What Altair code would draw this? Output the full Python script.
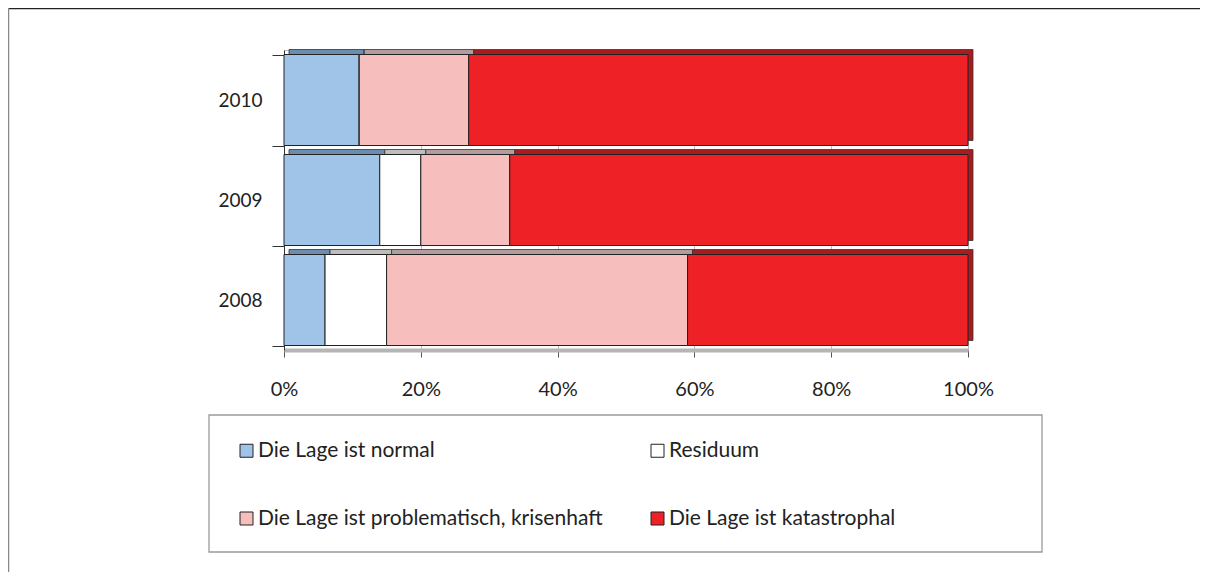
import altair as alt
import pandas as pd

years = ["2010", "2009", "2008"]
categories = [
    "Die Lage ist normal",
    "Residuum",
    "Die Lage ist problematisch, krisenhaft",
    "Die Lage ist katastrophal",
]
normal = [11, 14, 6]
residuum = [0, 6, 9]
problematic = [16, 13, 44]
catastrophal = [73, 67, 41]
x_ticks = [0, 20, 40, 60, 80, 100]

front_colors = ["#9FC4E8", "#FFFFFF", "#F7BEBE", "#EE2226"]
top_colors = ["#6A8DB0", "#BDBDBD", "#B59C9C", "#A81B1F"]

series = [normal, residuum, problematic, catastrophal]
rows = []
for ci, (cat, vals) in enumerate(zip(categories, series)):
    for yr, v in zip(years, vals):
        rows.append({"year": yr, "cat": cat, "ord": ci, "value": v})
df = pd.DataFrame(rows)

FONT = "Lato"

y_enc = alt.Y(
    "year:N",
    sort=years,
    scale=alt.Scale(paddingInner=0.09, paddingOuter=0.045),
    axis=alt.Axis(
        title=None,
        tickBand="extent",
        tickSize=12,
        tickColor="#333",
        domainColor="#333",
        labelPadding=10,
        labelFont=FONT,
        labelFontSize=19,
        labelColor="#222",
        grid=False,
    ),
)
x_enc = alt.X(
    "value:Q",
    stack="zero",
    scale=alt.Scale(domain=[0, 100], nice=False),
    axis=alt.Axis(
        title=None,
        values=x_ticks,
        labelExpr="datum.value + '%'",
        labelFlush=False,
        tickSize=7,
        tickColor="#555",
        domainColor="#B5B5B5",
        domainWidth=4,
        labelPadding=22,
        labelFont=FONT,
        labelFontSize=20,
        labelColor="#222",
        grid=True,
        gridColor="#BBBBBB",
        gridWidth=1,
    ),
)

back = alt.Chart(df).mark_bar(
    xOffset=5, yOffset=-5, stroke="#333", strokeWidth=0.8
).encode(
    x=x_enc,
    y=y_enc,
    color=alt.Color(
        "cat:N",
        sort=categories,
        scale=alt.Scale(domain=categories, range=top_colors),
        legend=None,
    ),
    order=alt.Order("ord:Q"),
)

front = alt.Chart(df).mark_bar(stroke="#222", strokeWidth=1).encode(
    x=x_enc,
    y=y_enc,
    fill=alt.Fill(
        "cat:N",
        sort=categories,
        scale=alt.Scale(domain=categories, range=front_colors),
        legend=alt.Legend(
            title=None,
            orient="none",
            direction="horizontal",
            legendX=-48,
            legendY=390,
            columns=2,
            columnPadding=44,
            rowPadding=46,
            symbolType="square",
            symbolSize=169,
            symbolStrokeColor="#222",
            symbolStrokeWidth=1,
            labelFont=FONT,
            labelFontSize=21,
            labelColor="#222",
            labelOffset=1,
            labelLimit=600,
            padding=0,
        ),
    ),
    order=alt.Order("ord:Q"),
)

one = alt.Data(values=[{}])
legend_box = alt.Chart(one).mark_rect(
    fill="#FFFFFF", fillOpacity=0, stroke="#9A9A9A", strokeWidth=1.3
).encode(
    x=alt.value(-75), x2=alt.value(758), y=alt.value(365), y2=alt.value(502)
)
frame_top = alt.Chart(one).mark_rule(color="#222", strokeWidth=1.5).encode(
    x=alt.value(-276), x2=alt.value(1000), y=alt.value(-41.5)
)
frame_left = alt.Chart(one).mark_rule(color="#888", strokeWidth=1.5).encode(
    x=alt.value(-275.5), y=alt.value(-42), y2=alt.value(600)
)

chart = (
    alt.layer(frame_top, frame_left, legend_box, back, front)
    .resolve_scale(color="independent")
    .properties(
        width=684,
        height=300,
        autosize=alt.AutoSizeParams(type="none"),
        padding={"left": 276, "top": 42, "right": 232, "bottom": 222},
        background="white",
    )
    .configure_view(stroke="#BBBBBB", strokeWidth=1)
)

chart.save("out.html", embed_options={"renderer": "svg", "actions": False})
